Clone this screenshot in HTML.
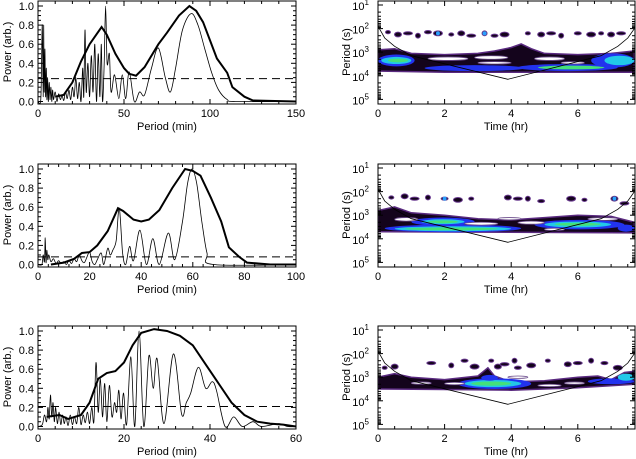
<!DOCTYPE html>
<html><head><meta charset="utf-8"><style>
html,body{margin:0;padding:0;background:#fff;}
svg{display:block;font-family:"Liberation Sans",sans-serif;}
</style></head><body>
<svg id="fig" width="636" height="459" viewBox="0 0 636 459" xmlns="http://www.w3.org/2000/svg"></svg>
<script>
// ---------- DATA ----------
const panelOffsets = [0, 163, 325];
const periodMax = [150, 100, 60];
const periodTicks = [[0,50,100,150],[0,20,40,60,80,100],[0,20,40,60]];
const powerTicks = [0,0.2,0.4,0.6,0.8,1.0];
const sigLevels = [0.24, 0.08, 0.21];
const thin1 = [[0,0],[1.5,0],[2,0.3],[2.5,0.8],[3,0.05],[3.3,0.8],[3.6,0.1],[4,0.55],[4.4,0.05],[4.8,0.35],[5.2,0.02],[5.6,0.25],[6,0],[6.5,0.2],[7,0.02],[7.5,0.15],[8,0],[8.5,0.12],[9,0.02],[10,0.1],[11,0],[12,0.08],[13,0.02],[14,0.06],[15,0.01],[16,0.1],[17,0.03],[18,0.12],[19,0.02],[20,0.15],[21,0.05],[22,0.25],[23,0.03],[24,0.2],[25,0],[26,0.35],[26.6,0.05],[27.3,0.75],[28,0.1],[29,0.4],[30,0.05],[31,0.48],[32,0.1],[33,0.6],[34,0],[35,0.5],[36,0.05],[36.8,0.6],[37.5,0],[38.5,0.4],[39.3,1.0],[40.2,0.4],[41.5,0.5],[42.5,0.1],[44.5,0.28],[47,0.03],[49,0.28],[51,0.03],[53,0.31],[56,0],[59,0.1],[62,0.07],[66,0.35],[70,0.56],[74,0.25],[77,0.1],[80,0.35],[84,0.75],[89,0.92],[93,0.8],[97,0.55],[101,0.3],[105,0.12],[110,0.02],[115,0],[150,0]];
const thick1 = [[10,0.05],[15,0.07],[20,0.2],[25,0.42],[30,0.6],[37,0.78],[40,0.7],[45,0.5],[50,0.35],[53,0.29],[57,0.27],[62,0.36],[70,0.6],[75,0.72],[82,0.9],[88,1.0],[92,0.95],[96,0.83],[104,0.45],[110,0.3],[113,0.15],[120,0.05],[125,0.01],[150,0]];
const thin2 = [[0,0],[1.5,0],[2,0.1],[2.5,0.03],[2.8,0.28],[3.1,0.02],[3.4,0.15],[3.8,0.05],[4.2,0.1],[5,0.03],[6,0.06],[7,0.01],[8,0.04],[9,0.01],[10,0.03],[11,0],[12,0.04],[13,0.01],[14,0.06],[15,0.03],[16,0.1],[17,0.04],[18,0.02],[19,0.08],[20,0.13],[21,0.03],[22,0],[23,0.05],[24.5,0.12],[25.5,0],[27,0.17],[28,0.1],[29,0.15],[30.3,0.25],[31.5,0.59],[32.8,0.12],[34,0],[35.5,0.19],[37,0.04],[39.5,0.36],[42,0],[44.5,0.27],[47,0],[50.5,0.33],[53,0.05],[56,0.45],[58,0.85],[59.7,1.0],[61.5,0.85],[63.5,0.45],[65.5,0.12],[68,0],[100,0]];
const thick2 = [[5,0],[10,0.02],[14,0.06],[17,0.12],[20,0.13],[23,0.2],[27,0.35],[31,0.59],[33,0.56],[37,0.47],[40,0.45],[43,0.47],[47,0.57],[52,0.8],[57,1.0],[60,0.98],[63,0.93],[67,0.7],[71,0.45],[74,0.18],[78,0.08],[81,0.02],[90,0],[100,0]];
const thin3 = [[0,0],[1,0.02],[1.5,0.12],[2,0.05],[2.3,0.2],[2.6,0.08],[2.9,0.33],[3.2,0.1],[3.5,0.25],[3.8,0.05],[4.1,0.2],[4.5,0.03],[4.9,0.15],[5.3,0.02],[5.7,0.12],[6.1,0.03],[6.5,0.1],[7,0.01],[7.5,0.12],[8,0.02],[8.5,0.1],[9,0.03],[9.5,0.2],[10,0.02],[10.5,0.12],[11,0.04],[11.5,0.15],[12,0.03],[12.5,0.2],[13,0.05],[13.5,0.67],[14,0.15],[14.5,0.5],[15,0.1],[15.5,0.45],[16,0.05],[16.6,0.43],[17.2,0.1],[17.8,0.25],[18.3,0.15],[18.8,0.38],[19.3,0.08],[19.9,0.35],[20.6,0.02],[21.6,0.73],[22.5,0],[23.5,1.0],[24.6,0],[25.8,0.74],[26.8,0.4],[27.7,0.71],[29.3,0.03],[31.5,0.76],[33.4,0.13],[34.5,0.25],[35.5,0.35],[37.3,0.62],[39,0.4],[40.5,0.47],[41.5,0.38],[43.5,0],[45.5,0.1],[47.5,0],[50,0.05],[52,0],[56,0.03],[58,0],[60,0]];
const thick3 = [[2,0.1],[5,0.12],[7,0.08],[10,0.12],[12,0.25],[14,0.5],[16,0.56],[18,0.58],[20,0.67],[22,0.85],[24,0.98],[27,1.02],[30,1.0],[33,0.95],[36,0.85],[39,0.65],[42,0.45],[45,0.25],[48,0.12],[51,0.05],[54,0.03],[57,0.02],[60,0]];
const thinSeries = [thin1, thin2, thin3];
const thickSeries = [thick1, thick2, thick3];

// wavelet (time hr, log10 period s)
const timeTicks = [0,2,4,6];
const logTicks = [1,2,3,4,5];
const bandTop = [
 [[0,2.9],[0.5,2.85],[1,3.05],[2,3.1],[3,3.05],[3.5,2.95],[4,2.8],[4.3,2.65],[4.6,2.85],[5,3.05],[6,3.1],[7,3.05],[7.7,2.95]],
 [[0,2.8],[0.5,2.65],[1,2.9],[2,3.0],[3,3.15],[4,3.2],[5,3.1],[6,3.0],[7,3.05],[7.7,3.3]],
 [[0,3.0],[0.5,2.85],[1,3.0],[2,3.1],[3,2.95],[3.3,2.6],[3.5,2.95],[4,3.2],[5,3.15],[6,3.0],[6.6,2.95],[7,3.1],[7.4,2.8],[7.7,2.75]]];
const bandBot = [
 [[0,3.8],[2,3.85],[4,3.85],[6,3.85],[7.7,3.85]],
 [[0,3.7],[4,3.72],[7.7,3.75]],
 [[0,3.5],[2,3.52],[4,3.55],[6,3.45],[7.7,3.3]]];
// blobs: [t0, t1, logTop, logBot, color]
const blobs = [
 [[0,1.1,3.1,3.6,'b'],[0.1,1.0,3.2,3.5,'c'],[0.3,0.9,3.27,3.43,'g'],[6.4,7.7,3.05,3.65,'b'],[6.8,7.7,3.15,3.55,'c'],[4.2,7.2,3.5,3.8,'b'],[4.8,6.8,3.57,3.73,'g'],[1.4,4.4,3.55,3.8,'b']],
 [[0.2,4.3,3.4,3.72,'b'],[0.5,4.0,3.47,3.68,'c'],[0.8,3.6,3.52,3.64,'g'],[1.0,2.9,3.1,3.45,'b'],[1.3,2.6,3.17,3.38,'c'],[1.5,2.4,3.22,3.34,'g'],[4.7,7.4,3.2,3.6,'b'],[5.0,7.0,3.27,3.52,'c'],[5.3,6.7,3.32,3.45,'g'],[7.2,7.7,3.4,3.7,'b']],
 [[2.4,4.6,3.05,3.5,'b'],[2.6,4.3,3.12,3.42,'c'],[2.8,4.0,3.18,3.36,'g'],[3.1,3.6,2.9,3.15,'b'],[6.3,7.7,3.05,3.3,'b'],[7.2,7.7,2.85,3.15,'c']]];
const holes = [
 [[1.5,2.7,3.2,3.35],[2.9,3.9,3.15,3.3],[3.0,4.0,3.4,3.5],[4.7,5.6,3.2,3.35],[5.5,6.2,3.4,3.5]],
 [[0.5,1.2,3.1,3.25],[2.6,3.6,3.3,3.42],[3.6,4.3,3.1,3.2],[4.2,5.0,3.25,3.38],[6.3,7.2,3.1,3.22],[5.0,5.6,3.55,3.65]],
 [[1.0,1.6,3.2,3.3],[2.0,2.6,3.22,3.32],[3.9,4.5,2.95,3.05],[4.8,5.5,3.3,3.4],[5.6,6.2,3.2,3.3]]];
const speckles = [
 [[0.3,2.15],[0.6,2.25],[0.9,2.2],[1.2,2.3],[1.5,2.15],[1.8,2.2],[2.2,2.25],[2.5,2.2],[2.8,2.3],[3.2,2.2],[3.5,2.3],[3.8,2.25],[4.5,2.2],[4.9,2.25],[5.2,2.2],[5.5,2.3],[6.0,2.2],[6.4,2.25],[6.7,2.2],[7.0,2.25],[7.3,2.2]],
 [[0.4,2.25],[0.8,2.2],[1.1,2.3],[1.5,2.25],[2.0,2.3],[2.4,2.35],[2.8,2.3],[3.9,2.25],[4.2,2.3],[4.5,2.3],[4.9,2.4],[5.8,2.3],[6.2,2.35],[7.1,2.3],[7.4,2.5]],
 [[0.2,2.6],[0.5,2.55],[1.6,2.4],[2.2,2.5],[2.6,2.3],[2.9,2.55],[3.4,2.3],[3.6,2.55],[3.8,2.45],[4.1,2.3],[4.2,2.6],[4.6,2.5],[5.1,2.3],[5.7,2.45],[6.0,2.4],[6.4,2.3],[6.8,2.4],[7.2,2.6]]];
const blueDots = [[[1.8,2.2],[3.2,2.2]],[[2.0,2.3],[7.1,2.3]],[]];
const coi = [[0,1.9],[0.2,2.4],[0.5,2.75],[1,3.15],[3.9,4.15],[6.7,3.15],[7.2,2.75],[7.5,2.4],[7.7,2.0]];

// ---------- GEOMETRY ----------
const NS='http://www.w3.org/2000/svg';
const svg=document.getElementById('fig');
const LX0=38, LX1=296, RX0=378, RX1=635, FT=1, FB=104;
const TMAX=(RX1-RX0)/33.3;
function px(p,i){return LX0+(LX1-LX0)*p/periodMax[i];}
function py(v,o){return o+101.5-95.5*v;}
function tx(t){return RX0+33.3*t;}
function ly(l,o){return o+5+(l-1)*23.6;}
function mk(tag,attrs,parent){const e=document.createElementNS(NS,tag);for(const k in attrs)e.setAttribute(k,attrs[k]);(parent||svg).appendChild(e);return e;}
function crPath(pts){let d='M'+pts[0][0].toFixed(1)+','+pts[0][1].toFixed(1);
 for(let i=0;i<pts.length-1;i++){const p0=pts[Math.max(i-1,0)],p1=pts[i],p2=pts[i+1],p3=pts[Math.min(i+2,pts.length-1)];
  const c1=[p1[0]+(p2[0]-p0[0])/6,p1[1]+(p2[1]-p0[1])/6],c2=[p2[0]-(p3[0]-p1[0])/6,p2[1]-(p3[1]-p1[1])/6];
  d+=' C'+c1[0].toFixed(1)+','+c1[1].toFixed(1)+' '+c2[0].toFixed(1)+','+c2[1].toFixed(1)+' '+p2[0].toFixed(1)+','+p2[1].toFixed(1);}
 return d;}
function txt(s,x,y,anchor,parent){const t=mk('text',{x:x,y:y,'font-size':11,'text-anchor':anchor||'middle',fill:'#000'},parent);t.textContent=s;return t;}
const COL={b:'#2233ee',c:'#22c8e8',g:'#44e07a'};

panelOffsets.forEach((o,i)=>{
 // ----- left power panel -----
 const g=mk('g',{});
 
 
 const cp=mk('clipPath',{id:'cl'+i},g);mk('rect',{x:LX0,y:o+FT,width:LX1-LX0,height:FB-FT},cp);
 const thin=mk('path',{d:crPath(thinSeries[i].map(p=>[px(p[0],i),py(p[1],o)])),fill:'none',stroke:'#000','stroke-width':0.8,'clip-path':'url(#cl'+i+')'},g);
 
 
 const thick=mk('path',{d:'M'+thickSeries[i].map(p=>px(p[0],i).toFixed(1)+','+py(p[1],o).toFixed(1)).join(' L'),fill:'none',stroke:'#000','stroke-width':2,'clip-path':'url(#cl'+i+')'},g);
 
 
 const dl=mk('line',{x1:LX0,x2:LX1,y1:py(sigLevels[i],o),y2:py(sigLevels[i],o),stroke:'#000','stroke-width':1,'stroke-dasharray':'8,5'},g);
 
 
 const fr=mk('rect',{x:LX0,y:o+FT,width:LX1-LX0,height:FB-FT,fill:'none',stroke:'#000','stroke-width':1},g);
 
 
 const pt=periodTicks[i], step=pt[1]-pt[0];
 for(let v=0;v<=periodMax[i]+1e-9;v+=step/5){const x=px(v,i);const maj=Math.abs(v/step-Math.round(v/step))<1e-6;const L=maj?5:3;
  mk('line',{x1:x,x2:x,y1:o+FB,y2:o+FB-L,stroke:'#000'},g);mk('line',{x1:x,x2:x,y1:o+FT,y2:o+FT+L,stroke:'#000'},g);}
 pt.forEach(v=>{const t=txt(String(v),px(v,i),o+117,'middle',g);});
 for(let v=0;v<=1.05;v+=0.05){const y=py(v,o);const maj=Math.abs(v*5-Math.round(v*5))<1e-6;const L=maj?5:3;
  mk('line',{x1:LX0,x2:LX0+L,y1:y,y2:y,stroke:'#000'},g);mk('line',{x1:LX1,x2:LX1-L,y1:y,y2:y,stroke:'#000'},g);}
 powerTicks.forEach(v=>{const t=txt(v.toFixed(1),34,py(v,o)+4,'end',g);});
 const xt=txt('Period (min)',167,o+130,'middle',g);
 
 
 const yt=txt('Power (arb.)',0,0,'middle',g);yt.setAttribute('transform','translate(11,'+(o+52)+') rotate(-90)');
 
 

 // ----- right wavelet panel -----
 const w=mk('g',{});
 
 
 const cr=mk('clipPath',{id:'cr'+i},w);mk('rect',{x:RX0,y:o+FT,width:RX1-RX0,height:FB-FT},cr);
 const inner=mk('g',{'clip-path':'url(#cr'+i+')'},w);
 const bp=bandTop[i].map(p=>[tx(p[0]),ly(p[1],o)]).concat(bandBot[i].slice().reverse().map(p=>[tx(p[0]),ly(p[1],o)]));
 const band=mk('path',{d:'M'+bp.map(p=>p[0].toFixed(1)+','+p[1].toFixed(1)).join(' L')+'Z',fill:'#14041c',stroke:'#5a2a80','stroke-width':1.5},inner);
 
 
 blobs[i].forEach(b=>{const e=mk('ellipse',{cx:tx((b[0]+b[1])/2),cy:ly((b[2]+b[3])/2,o),rx:(tx(b[1])-tx(b[0]))/2,ry:(ly(b[3],o)-ly(b[2],o))/2,fill:COL[b[4]]},inner);
  
  });
 holes[i].forEach(b=>{const e=mk('ellipse',{cx:tx((b[0]+b[1])/2),cy:ly((b[2]+b[3])/2,o),rx:(tx(b[1])-tx(b[0]))/2,ry:(ly(b[3],o)-ly(b[2],o))/2,fill:'#fff',stroke:'#6a4a8a','stroke-width':0.8},inner);
  
  });
 speckles[i].forEach((s,k)=>{const e=mk('ellipse',{cx:tx(s[0]),cy:ly(s[1],o),rx:2.5+(k%3),ry:1.6+(k%2)*0.8,fill:'#14041c',stroke:'#6a3a90','stroke-width':1},inner);
  
  });
 blueDots[i].forEach(s=>{const e=mk('circle',{cx:tx(s[0]),cy:ly(s[1],o),r:2,fill:'#2aa0ff'},inner);
  
  });
 const c=mk('path',{d:'M'+coi.map(p=>tx(p[0]).toFixed(1)+','+ly(p[1],o).toFixed(1)).join(' L'),fill:'none',stroke:'#000','stroke-width':0.8},inner);
 
 
 const rf=mk('rect',{x:RX0,y:o+FT,width:RX1-RX0,height:FB-FT,fill:'none',stroke:'#000','stroke-width':1},w);
 
 
 for(let t=0;t<=TMAX;t+=0.5){const x=tx(t);const L=(t%2===0)?5:3;
  mk('line',{x1:x,x2:x,y1:o+FB,y2:o+FB-L,stroke:'#000'},w);mk('line',{x1:x,x2:x,y1:o+FT,y2:o+FT+L,stroke:'#000'},w);}
 timeTicks.forEach(t=>{const e=txt(String(t),tx(t),o+117,'middle',w);});
 for(let d=1;d<=5;d++){for(let m=1;m<=9;m++){const l=d+Math.log10(m);if(l>5.2)break;const y=ly(l,o);const L=m===1?5:3;
  mk('line',{x1:RX0,x2:RX0+L,y1:y,y2:y,stroke:'#000'},w);mk('line',{x1:RX1,x2:RX1-L,y1:y,y2:y,stroke:'#000'},w);}}
 logTicks.forEach(l=>{const t=mk('text',{x:369,y:ly(l,o)+5,'font-size':11,'text-anchor':'end'},w);t.textContent='10';
  const s=mk('tspan',{dy:-5,'font-size':8},t);s.textContent=String(l);
  });
 const rx=txt('Time (hr)',506,o+130,'middle',w);
 
 
 const ry=txt('Period (s)',0,0,'middle',w);ry.setAttribute('transform','translate(350,'+(o+52)+') rotate(-90)');
 
 
});
</script>
</body></html>
